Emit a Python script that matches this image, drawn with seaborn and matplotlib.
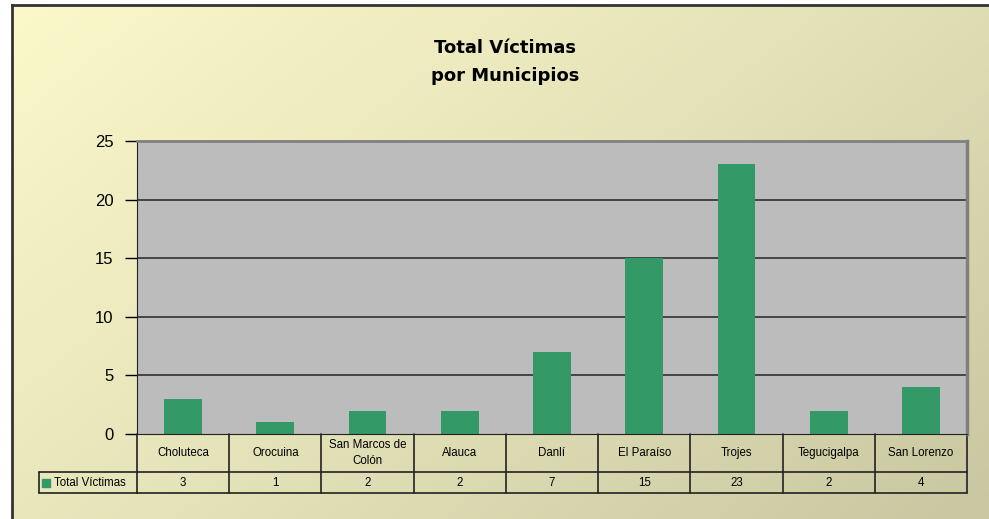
import numpy as np
import pandas as pd
import matplotlib.pyplot as plt
import seaborn as sns
from matplotlib.colors import LinearSegmentedColormap

municipios = ["Choluteca", "Orocuina", "San Marcos de\nColón", "Alauca", "Danlí",
              "El Paraíso", "Trojes", "Tegucigalpa", "San Lorenzo"]
victimas = [3, 1, 2, 2, 7, 15, 23, 2, 4]
serie = "Total Víctimas"
titulo = "Total Víctimas\npor Municipios"

df = pd.DataFrame({"municipio": municipios, "victimas": victimas})

sns.set_style("white")
plt.rcParams['font.family'] = ['Liberation Sans', 'DejaVu Sans']
plt.rcParams['text.color'] = "black"
plt.rcParams['ytick.color'] = "black"
plt.rcParams['xtick.color'] = "black"

W, H = 989, 519
fig = plt.figure(figsize=(W / 100, H / 100), dpi=100)
fig.patch.set_facecolor("white")

# yellow diagonal gradient background (light top-left, darker bottom-right)
bg = fig.add_axes([12 / W, 0, 1 - 12 / W, 1 - 5 / H])
bg_cmap = LinearSegmentedColormap.from_list("bg", ["#fbf9ca", "#e4e2b8", "#c8c7a1"])
gx, gy = np.meshgrid(np.linspace(0, 1, 300), np.linspace(0, 1, 200))
bg.imshow(gx * 0.6 + gy * 0.4, cmap=bg_cmap, aspect="auto",
          extent=[0, 1, 0, 1], origin="upper")
bg.set_xlim(0, 1)
bg.set_ylim(0, 1)
bg.set_xticks([])
bg.set_yticks([])
for s in ["left", "top"]:
    bg.spines[s].set_color("#333333")
    bg.spines[s].set_linewidth(2)
for s in ["right", "bottom"]:
    bg.spines[s].set_visible(False)

fig.text(505 / W, 1 - 62 / H, titulo, ha="center", va="center", fontsize=13,
         fontweight="bold", family=["DejaVu Sans"], linespacing=1.75)

# main plot area
x0, x1, ytop, ybot = 137, 967, 141, 434
ax = fig.add_axes([x0 / W, 1 - ybot / H, (x1 - x0) / W, (ybot - ytop) / H])
ax.set_facecolor("#bcbcbc")
sns.barplot(data=df, x="municipio", y="victimas", color="#339966",
            saturation=1, width=0.41, linewidth=0, ax=ax)
ax.set_ylim(0, 25)
ax.set_xlim(-0.5, len(municipios) - 0.5)
ax.set_yticks([0, 5, 10, 15, 20, 25])
ax.tick_params(axis="y", labelsize=12, length=9, width=1, direction="out",
               left=True, pad=8, colors="black")
ax.set_xticks([])
ax.set_xlabel("")
ax.set_ylabel("")
for v in [5, 10, 15, 20]:
    ax.axhline(v, color="#444444", lw=1.4, zorder=0.5)
ax.spines["left"].set_color("#222222")
ax.spines["bottom"].set_color("#222222")
ax.spines["top"].set_color("#808080")
ax.spines["top"].set_linewidth(2)
ax.spines["right"].set_color("#808080")
ax.spines["right"].set_linewidth(2.5)

# data table under the axis
trans = ax.get_xaxis_transform()
ph = ybot - ytop
r1 = -(472 - ybot) / ph
r2 = -(493 - ybot) / ph
n = len(municipios)
cw = (x1 - x0) / n
lk = dict(color="#222222", lw=1.2, transform=trans, clip_on=False)
for b in np.arange(-0.5, n, 1.0):
    ax.plot([b, b], [0, r2], **lk)
ax.plot([-0.5, n - 0.5], [r1, r1], **lk)
ax.plot([-0.5, n - 0.5], [r2, r2], **lk)
# legend cell to the left
lx = -0.5 - (x0 - 39) / cw
ax.plot([lx, -0.5], [r1, r1], **lk)
ax.plot([lx, -0.5], [r2, r2], **lk)
ax.plot([lx, lx], [r1, r2], **lk)
for i, (m, v) in enumerate(zip(municipios, victimas)):
    ax.text(i, r1 / 2, m, ha="center", va="center", fontsize=8.3, transform=trans,
            linespacing=1.5)
    ax.text(i, (r1 + r2) / 2, str(v), ha="center", va="center", fontsize=8.3,
            transform=trans)
ax.plot([lx + 7 / cw], [(r1 + r2) / 2], marker="s", markersize=6,
        color="#339966", transform=trans, clip_on=False)
ax.text(lx + 15 / cw, (r1 + r2) / 2, serie, ha="left", va="center", fontsize=8.3,
        transform=trans)

fig.savefig("out.png", dpi=100)
